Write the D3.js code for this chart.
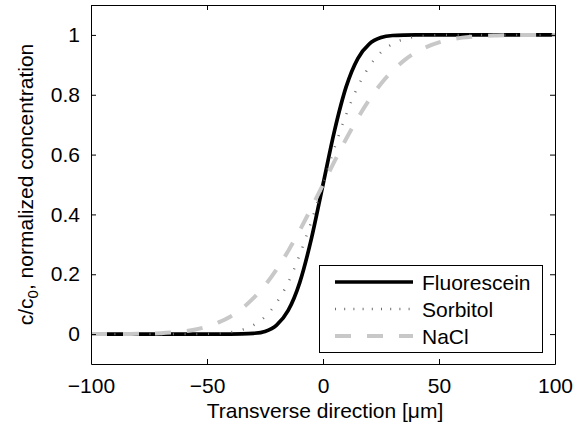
<!DOCTYPE html>
<html>
<head>
<meta charset="utf-8">
<script src="https://cdn.jsdelivr.net/npm/d3@7"></script>
<style>
  body { margin: 0; background: #fff; }
  text { font-family: "Liberation Sans", Arial, sans-serif; }
</style>
</head>
<body>
<div class="chart-container"></div>
<script>
// transverse position [µm]
const positions = [-100, -95, -90, -85, -80, -75, -70, -65, -60, -55, -50, -45, -40, -35, -30, -25, -20, -15, -10, -5,
    0, 5, 10, 15, 20, 25, 30, 35, 40, 45, 50, 55, 60, 65, 70, 75, 80, 85, 90, 95, 100];

const fluorescein = [0, 0, 0, 0, 0, 0, 0, 0, 0, 0, 0, 0, 0.0001, 0.0005, 0.0024, 0.009, 0.030, 0.079, 0.173, 0.319,
    0.5, 0.681, 0.827, 0.921, 0.970, 0.991, 0.998, 0.9995, 0.9999, 1, 1, 1, 1, 1, 1, 1, 1, 1, 1, 1, 1];

const sorbitol = [0, 0, 0, 0, 0, 0, 0, 0, 0.0001, 0.0003, 0.0009, 0.0024, 0.006, 0.014, 0.030, 0.058, 0.105, 0.173, 0.266, 0.377,
    0.5, 0.623, 0.734, 0.827, 0.895, 0.942, 0.970, 0.986, 0.994, 0.998, 0.9991, 0.9997, 0.9999, 1, 1, 1, 1, 1, 1, 1, 1];

const nacl = [0, 0.0001, 0.0002, 0.0004, 0.0009, 0.0016, 0.0029, 0.0053, 0.009, 0.0155, 0.025, 0.039, 0.058, 0.085, 0.120, 0.163, 0.216, 0.278, 0.347, 0.422,
    0.5, 0.578, 0.653, 0.722, 0.784, 0.837, 0.880, 0.915, 0.942, 0.961, 0.975, 0.9845, 0.991, 0.9947, 0.9971, 0.9984, 0.9991, 0.9996, 0.9998, 0.9999, 1];

const seriesNames = ["Fluorescein", "Sorbitol", "NaCl"];
const xTicks = [-100, -50, 0, 50, 100];
const yTicks = [0, 0.2, 0.4, 0.6, 0.8, 1];

function drawChart() {
    const width = 574, height = 429;
    const margin = { top: 5, right: 19, bottom: 65, left: 91 };
    const fontSize = "21px";

    const svg = d3.select(".chart-container").append("svg")
        .attr("width", width)
        .attr("height", height);

    const x = d3.scaleLinear()
        .domain([-100, 100])
        .range([margin.left, width - margin.right]);

    const y = d3.scaleLinear()
        .domain([-0.1, 1.1])
        .range([height - margin.bottom, margin.top]);

    const styles = [
        { color: "#000", width: 3.7, dash: null, legendDash: null },
        { color: "#6e6e6e", width: 2.5, dash: "1,10.7", legendDash: "1,8.2" },
        { color: "#c8c8c8", width: 4, dash: "16,16", legendDash: "16,16" }
    ];
    const allValues = [fluorescein, sorbitol, nacl];

    svg.append("clipPath").attr("id", "plot-clip")
        .append("rect")
        .attr("x", margin.left)
        .attr("y", margin.top)
        .attr("width", width - margin.left - margin.right)
        .attr("height", height - margin.top - margin.bottom);

    const line = d3.line()
        .x(d => x(d[0]))
        .y(d => y(d[1]))
        .curve(d3.curveMonotoneX);

    svg.append("g")
        .attr("clip-path", "url(#plot-clip)")
        .selectAll("path")
        .data(allValues)
        .enter()
        .append("path")
            .attr("d", vals => line(positions.map((p, i) => [p, vals[i]])))
            .attr("fill", "none")
            .attr("stroke", (d, i) => styles[i].color)
            .attr("stroke-width", (d, i) => styles[i].width)
            .attr("stroke-dasharray", (d, i) => styles[i].dash);

    const fmtX = d => d < 0 ? "\u2212" + Math.abs(d) : String(d);

    const xAxis = g =>
        g.attr("transform", `translate(0, ${height - margin.bottom})`)
        .call(d3.axisBottom(x).tickValues(xTicks).tickFormat(fmtX).tickSizeInner(-5).tickSizeOuter(0).tickPadding(14));
    const xAxisTop = g =>
        g.attr("transform", `translate(0, ${margin.top})`)
        .call(d3.axisTop(x).tickValues(xTicks).tickFormat("").tickSizeInner(-5).tickSizeOuter(0));
    const yAxis = g =>
        g.attr("transform", `translate(${margin.left}, 0)`)
        .call(d3.axisLeft(y).tickValues(yTicks).tickFormat(d3.format("~g")).tickSizeInner(-5).tickSizeOuter(0).tickPadding(11));
    const yAxisRight = g =>
        g.attr("transform", `translate(${width - margin.right}, 0)`)
        .call(d3.axisRight(y).tickValues(yTicks).tickFormat("").tickSizeInner(-5).tickSizeOuter(0));

    [xAxis, xAxisTop, yAxis, yAxisRight].forEach(ax => {
        svg.append("g").call(ax)
            .call(g => g.selectAll("text").attr("fill", "#000").style("font-size", fontSize)
                .style("font-family", "'Liberation Sans', Arial, sans-serif"))
            .call(g => g.selectAll("line, path").attr("stroke", "#000"));
    });

    // axis labels
    svg.append("text")
        .attr("x", (margin.left + width - margin.right) / 2 + 2)
        .attr("y", 418)
        .attr("text-anchor", "middle")
        .style("font-size", fontSize)
        .text("Transverse direction [\u03bcm]");

    const yLabel = svg.append("text")
        .attr("transform", `translate(33, ${(margin.top + height - margin.bottom) / 2}) rotate(-90)`)
        .attr("text-anchor", "middle")
        .style("font-size", fontSize);
    yLabel.append("tspan").text("c/c");
    yLabel.append("tspan").attr("dy", 5).style("font-size", "15px").text("0");
    yLabel.append("tspan").attr("dy", -5).text(", normalized concentration");

    // legend
    const legend = svg.append("g");
    legend.append("rect")
        .attr("x", 319.5).attr("y", 265.5)
        .attr("width", 223).attr("height", 87)
        .attr("fill", "#fff").attr("stroke", "#000");

    const rows = legend.selectAll("g.row")
        .data(seriesNames)
        .enter()
        .append("g")
            .attr("class", "row")
            .attr("transform", (d, i) => `translate(335, ${282 + i * 27})`);
    rows.append("line")
        .attr("x1", 0).attr("x2", 78)
        .attr("stroke", (d, i) => styles[i].color)
        .attr("stroke-width", (d, i) => styles[i].width)
        .attr("stroke-dasharray", (d, i) => styles[i].legendDash);
    rows.append("text")
        .attr("x", 87)
        .attr("dy", "0.36em")
        .style("font-size", fontSize)
        .text(d => d);
}

drawChart();
</script>
</body>
</html>
